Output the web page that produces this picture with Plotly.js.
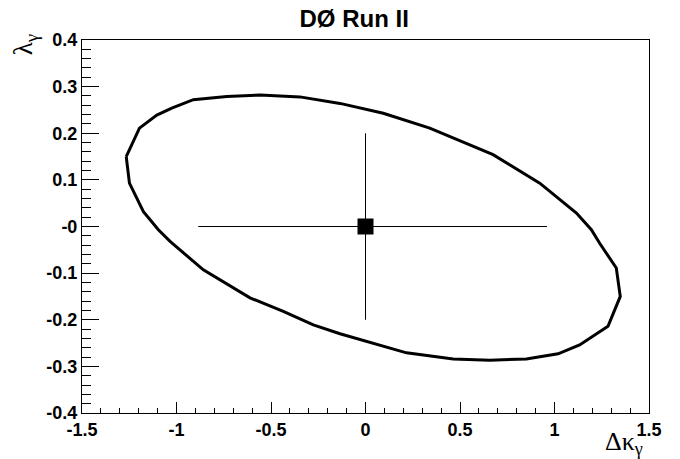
<!DOCTYPE html>
<html>
<head>
<meta charset="utf-8">
<script src="https://cdn.plot.ly/plotly-3.0.1.min.js"></script>
<style>
  html, body { margin: 0; padding: 0; background: #fff; }
  #chart { width: 680px; height: 459px; }
</style>
</head>
<body>
<div id="chart"></div>
<script>
// Contour (closed curve)
const contourDK = [-1.266, -1.196, -1.104, -1.025, -0.911, -0.734, -0.558, -0.347, -0.135, 0.094, 0.340, 0.675, 0.922, 1.116, 1.195, 1.239, 1.327, 1.348, 1.283, 1.133, 1.019, 0.851, 0.658, 0.464, 0.217, 0.006, -0.135, -0.276, -0.435, -0.611, -0.858, -1.034, -1.096, -1.175, -1.249, -1.266];
const contourLambda = [0.150, 0.211, 0.239, 0.254, 0.272, 0.279, 0.282, 0.278, 0.264, 0.243, 0.211, 0.154, 0.093, 0.029, -0.007, -0.036, -0.089, -0.150, -0.214, -0.254, -0.273, -0.284, -0.287, -0.284, -0.271, -0.246, -0.230, -0.211, -0.182, -0.153, -0.093, -0.032, -0.007, 0.032, 0.093, 0.150];

// Central value with its errors
const pointDK = [0];
const pointLambda = [0];
const errDKplus = [0.96];
const errDKminus = [0.885];
const errLambda = [0.2];

// Tick labels
const xTickVals = [-1.5, -1, -0.5, 0, 0.5, 1, 1.5];
const xTickText = ["-1.5", "-1", "-0.5", "0", "0.5", "1", "1.5"];
const yTickVals = [0.4, 0.3, 0.2, 0.1, 0, -0.1, -0.2, -0.3, -0.4];
const yTickText = ["0.4", "0.3", "0.2", "0.1", "-0", "-0.1", "-0.2", "-0.3", "-0.4"];

const sans = "Liberation Sans, Arial, sans-serif";
const serif = "Liberation Serif, Times New Roman, serif";
const tickFont = {family: sans, size: 18, color: "#000", weight: "bold"};

const data = [
    {
        x: contourDK,
        y: contourLambda,
        mode: "lines",
        line: {color: "#000", width: 3},
        hoverinfo: "skip"
    },
    {
        x: pointDK,
        y: pointLambda,
        mode: "markers",
        marker: {color: "#000", size: 16, symbol: "square"},
        error_x: {type: "data", symmetric: false, array: errDKplus, arrayminus: errDKminus,
                  color: "#000", thickness: 1, width: 0},
        error_y: {type: "data", array: errLambda, color: "#000", thickness: 1, width: 0}
    },
    // empty trace so the minor-tick overlay axes get a subplot
    {x: [], y: [], xaxis: "x2", yaxis: "y2", mode: "markers", hoverinfo: "skip"}
];

// minor ticks drawn by overlay axes without labels
const minorAxis = (range, dtick, len) => ({
    range: range,
    tickmode: "linear",
    tick0: range[0],
    dtick: dtick,
    ticks: "inside",
    ticklen: len,
    tickwidth: 1,
    tickcolor: "#000",
    showticklabels: false,
    showgrid: false,
    zeroline: false,
    showline: false
});

const layout = {
    width: 680,
    height: 459,
    showlegend: false,
    paper_bgcolor: "#fff",
    plot_bgcolor: "#fff",
    font: {family: sans, size: 18, color: "#000"},
    margin: {l: 82, r: 31, t: 40, b: 46},
    title: {
        text: "<b>DØ Run II</b>",
        font: {family: sans, size: 24, color: "#000"},
        xref: "paper", x: 0.48, xanchor: "center",
        yref: "container", y: 0.959, yanchor: "middle"
    },
    xaxis: {
        range: [-1.5, 1.5],
        tickmode: "array",
        tickvals: xTickVals,
        ticktext: xTickText.map(s => "<b>" + s + "</b>"),
        ticks: "inside",
        ticklen: 11,
        tickwidth: 1,
        tickcolor: "#000",
        tickfont: tickFont,
        showgrid: false,
        zeroline: false,
        showline: true,
        linecolor: "#000",
        linewidth: 1,
        mirror: true
    },
    yaxis: {
        range: [-0.4, 0.4],
        tickmode: "array",
        tickvals: yTickVals,
        ticktext: yTickText.map(s => "<b>" + s + "</b>"),
        ticks: "inside",
        ticklen: 17,
        tickwidth: 1,
        tickcolor: "#000",
        tickfont: tickFont,
        showgrid: false,
        zeroline: false,
        showline: true,
        linecolor: "#000",
        linewidth: 1,
        mirror: true
    },
    xaxis2: Object.assign(minorAxis([-1.5, 1.5], 0.1, 5.5), {overlaying: "x", anchor: "y2", side: "bottom"}),
    yaxis2: Object.assign(minorAxis([-0.4, 0.4], 0.02, 8.5), {overlaying: "y", anchor: "x2", side: "left"}),
    annotations: [
        {
            text: "Δκ<sub>γ</sub>",
            xref: "paper", yref: "paper",
            x: 0.993, y: -0.08,
            xanchor: "right", yanchor: "middle",
            showarrow: false,
            font: {family: serif, size: 26, color: "#000"}
        },
        {
            text: "λ<sub>γ</sub>",
            xref: "paper", yref: "paper",
            x: -0.1, y: 1.02,
            xanchor: "center", yanchor: "top",
            textangle: -90,
            showarrow: false,
            font: {family: serif, size: 27, color: "#000"}
        }
    ]
};

Plotly.newPlot("chart", data, layout, {displayModeBar: false, staticPlot: true});
</script>
</body>
</html>
